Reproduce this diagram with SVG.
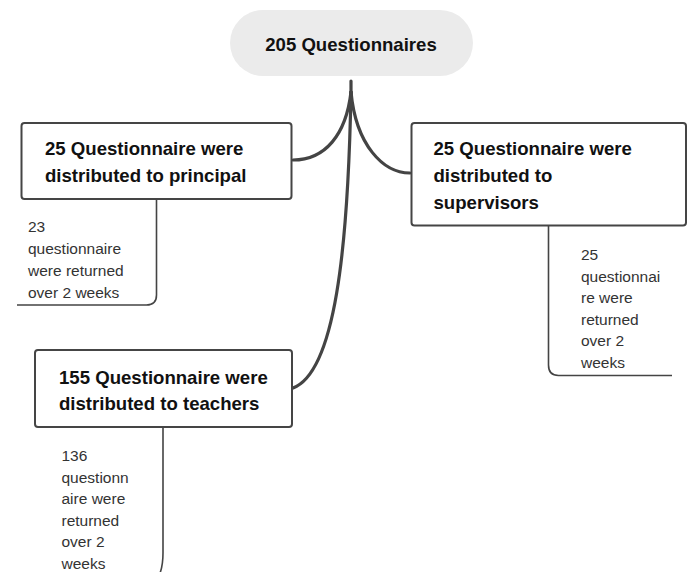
<svg xmlns="http://www.w3.org/2000/svg" width="691" height="572" viewBox="0 0 691 572">
  <style>
    .title { font-family: "Liberation Sans", Arial, sans-serif; font-weight: bold; font-size: 18.6px; fill: #111; }
    .note { font-family: "Liberation Sans", Arial, sans-serif; font-size: 15.5px; fill: #333; }
    .box { fill: #fff; stroke: #454545; stroke-width: 2; }
    .branch { fill: none; stroke: #444; stroke-width: 3.2; stroke-linecap: round; }
    .tail { fill: none; stroke: #444; stroke-width: 1.6; }
  </style>
  <rect width="691" height="572" fill="#fff"/>

  <!-- branches from the root -->
  <g id="connectors">
    <path class="branch" d="M351,81 V96"/>
    <path class="branch" d="M351,92 C346,135 325,160 293,160"/>
    <path class="branch" d="M351,92 C356,145 383,173 410,173"/>
    <path class="branch" d="M351,92 C348,250 335,372 293,388"/>
  </g>

  <g id="root">
    <rect x="230" y="10" width="243" height="66" rx="33" ry="33" fill="#ebebeb"/>
    <text class="title" x="351" y="51" text-anchor="middle">205 Questionnaires</text>
  </g>

  <g id="principal">
    <rect class="box" x="21.5" y="123" width="270" height="76" rx="3"/>
    <text class="title" x="45" y="155">25 Questionnaire were</text>
    <text class="title" x="45" y="182">distributed to principal</text>
  </g>

  <g id="principal-returned">
    <path class="tail" d="M156.5,199 V295 Q156.5,305 146.5,305 H17"/>
    <text class="note" x="28" y="232">23</text>
    <text class="note" x="28" y="254">questionnaire</text>
    <text class="note" x="28" y="276">were returned</text>
    <text class="note" x="28" y="298">over 2 weeks</text>
  </g>

  <g id="supervisors">
    <rect class="box" x="411.5" y="123" width="274.5" height="102.5" rx="3"/>
    <text class="title" x="433.5" y="155">25 Questionnaire were</text>
    <text class="title" x="433.5" y="182">distributed to</text>
    <text class="title" x="433.5" y="208.5">supervisors</text>
  </g>

  <g id="supervisors-returned">
    <path class="tail" d="M548.5,226 V365 Q548.5,375.5 558.5,375.5 H672"/>
    <text class="note" x="581" y="260">25</text>
    <text class="note" x="581" y="281.5">questionnai</text>
    <text class="note" x="581" y="303">re were</text>
    <text class="note" x="581" y="324.5">returned</text>
    <text class="note" x="581" y="346">over 2</text>
    <text class="note" x="581" y="367.5">weeks</text>
  </g>

  <g id="teachers">
    <rect class="box" x="35" y="350" width="257" height="77" rx="3"/>
    <text class="title" x="59" y="383.5">155 Questionnaire were</text>
    <text class="title" x="59" y="410">distributed to teachers</text>
  </g>

  <g id="teachers-returned">
    <path class="tail" d="M163,427 V553 C163,566 161,575 155,582 H20"/>
    <text class="note" x="61.5" y="461">136</text>
    <text class="note" x="61.5" y="482.5">questionn</text>
    <text class="note" x="61.5" y="504">aire were</text>
    <text class="note" x="61.5" y="525.5">returned</text>
    <text class="note" x="61.5" y="547">over 2</text>
    <text class="note" x="61.5" y="568.5">weeks</text>
  </g>
</svg>
